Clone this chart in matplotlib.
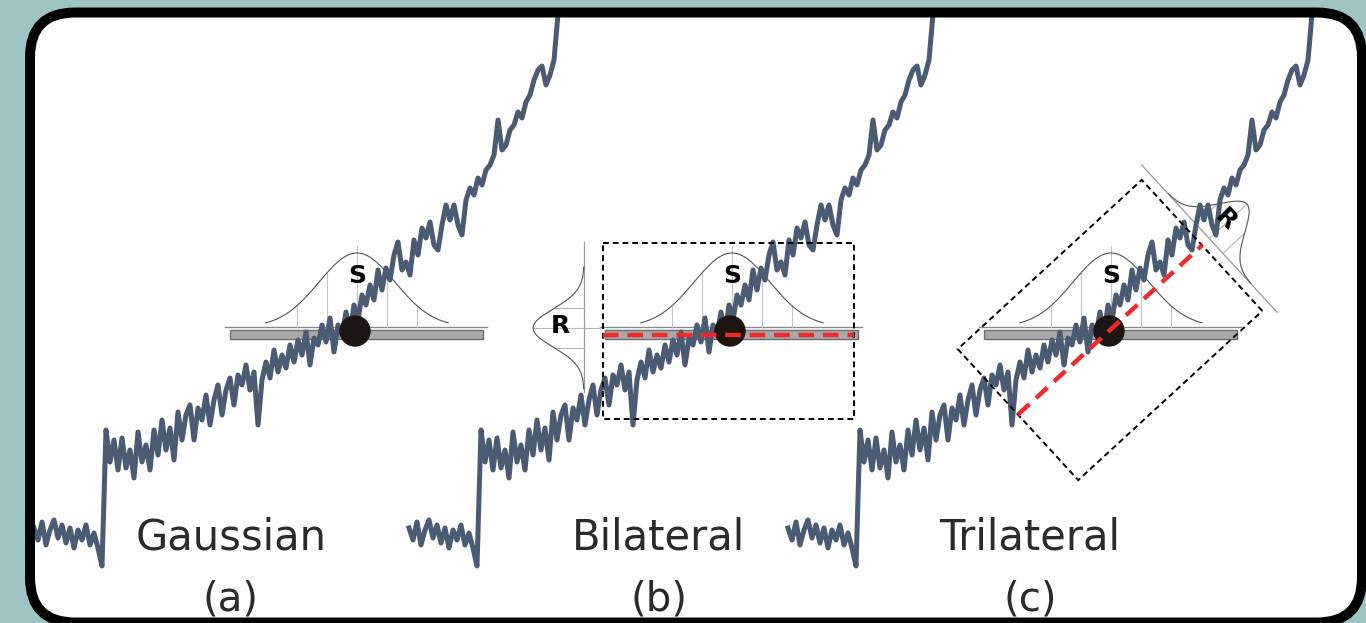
import numpy as np
import matplotlib.pyplot as plt
from matplotlib.patches import FancyBboxPatch, Rectangle, Circle, Polygon

# noisy step + ramp signal, pixel units, x = 34 + 4*i
sig_y = [528, 540, 522, 545, 530, 520, 538, 525, 543, 528, 548, 530, 540, 525, 545, 533, 548, 566,
         430, 462, 440, 470, 438, 468, 450, 478, 432, 462, 445, 470, 430, 455, 420, 450, 428, 460,
         412, 440, 415, 405, 440, 408, 420, 395, 425, 400, 385, 415, 390, 378, 405, 375, 385, 365,
         390, 372, 425, 380, 362, 378, 350, 372, 355, 368, 345, 362, 340, 355, 332, 365, 338, 345,
         325, 342, 318, 352, 325, 335, 312, 335, 305, 320, 295, 305, 285, 300, 270, 290, 268, 280,
         255, 242, 270, 262, 275, 240, 255, 228, 238, 222, 245, 250, 225, 205, 220, 205, 225, 235,
         200, 188, 195, 178, 185, 170, 165, 155, 120, 150, 145, 130, 125, 112, 118, 102, 95, 80,
         70, 66, 85, 75, 60, 14]
sig_x0, sig_step = 34, 4

panel_shift = [0, 375, 754]
names = ["Gaussian", "Bilateral", "Trilateral"]
tags = ["(a)", "(b)", "(c)"]

# kernel placement (panel a coords)
dot = (355, 331)
s_peak, s_base, s_amp, s_sigma = 357, 327, 74, 38
r_amp, r_sigma = 51, 19
win_w, win_h = 251, 176
tilt = 42.6  # degrees, trilateral window

teal = "#9ec5c4"
line_col = "#4b5b73"
red = "#ee2a2a"

fig = plt.figure(figsize=(13.66, 6.23), dpi=100, facecolor=teal)
ax = fig.add_axes([0, 0, 1, 1])
ax.set_xlim(0, 1366)
ax.set_ylim(623, 0)
ax.axis("off")
ax.set_facecolor(teal)

# white card with thick black rounded border
card = dict(boxstyle="round,pad=0,rounding_size=45")
ax.add_patch(FancyBboxPatch((30, 12.5), 1332, 610, facecolor="white", edgecolor="none",
                            zorder=0, clip_on=False, **card))
ax.add_patch(FancyBboxPatch((30, 12.5), 1332, 610, facecolor="none", edgecolor="black",
                            lw=7.2, zorder=10, clip_on=False, **card))

sx = sig_x0 + sig_step * np.arange(len(sig_y))
sy = np.array(sig_y)


def s_kernel(dx):
    cx = s_peak + dx
    # base line and bar
    ax.plot([225 + dx, 487 + dx], [s_base, s_base], color="#8a8a8a", lw=1, zorder=1)
    ax.add_patch(Rectangle((230 + dx, 330), 253, 9, facecolor="#a9a9a9", edgecolor="#6d6d6d",
                           lw=1, zorder=1))
    u = np.linspace(-2.4, 2.4, 200)
    ax.plot(cx + u * s_sigma, s_base - s_amp * np.exp(-u ** 2 / 2), color="#555555", lw=0.8, zorder=2)
    for k in [-60, -30, 0, 30, 60]:
        top = s_base - s_amp * np.exp(-(k / s_sigma) ** 2 / 2)
        if k == 0:
            top -= 7
        ax.plot([cx + k, cx + k], [s_base, top], color="#c4c4c4", lw=0.8, zorder=1)
    ax.text(cx, 276, "S", fontsize=18, fontweight="bold", ha="center", va="center", zorder=6)


for i, dx in enumerate(panel_shift):
    s_kernel(dx)
    ax.plot(sx + dx, sy, color=line_col, lw=3.6, solid_joinstyle="round", zorder=3)
    ax.add_patch(Circle((dot[0] + dx, dot[1]), 15, color="#1d1512", zorder=4))
    cx_txt = [231, 659, 1030][i]
    ax.text(cx_txt, 549, names[i], fontsize=30, color="#2b2b2b", ha="center", va="baseline", zorder=6)
    ax.text(cx_txt, 611, tags[i], fontsize=29, color="#2b2b2b", ha="center", va="baseline", zorder=6)

# --- bilateral: range kernel + window
bx, by = dot[0] + 375 - 2, dot[1]
ax.add_patch(Rectangle((bx - win_w / 2, by - win_h / 2), win_w, win_h, fill=False, edgecolor="black",
                       lw=1.4, linestyle=(0, (3, 2)), zorder=5))
ax.plot([bx - win_w / 2, bx + win_w / 2], [335, 335], color=red, lw=3.2, linestyle=(0, (3.5, 2)),
        zorder=5)
rl = 584
ax.plot([rl, rl], [242, 392], color="#999999", lw=0.9, zorder=1)
v = np.linspace(-3.2, 3.2, 200)
ax.plot(rl - r_amp * np.exp(-v ** 2 / 2), by - 3 + v * r_sigma, color="#555555", lw=0.8, zorder=2)
for k in [-20, 0, 20]:
    left = rl - r_amp * np.exp(-(k / r_sigma) ** 2 / 2)
    ax.plot([left, rl + (16 if k == 0 else 0)], [by - 3 + k, by - 3 + k], color="#b5b5b5", lw=0.8, zorder=1)
ax.text(560, 326, "R", fontsize=18, fontweight="bold", ha="center", va="center", zorder=6)

# --- trilateral: tilted window
cx, cy = dot[0] + 754 + 1, dot[1] - 1
a = np.deg2rad(tilt)
d = np.array([np.cos(a), -np.sin(a)])   # along the window
p = np.array([np.sin(a), np.cos(a)])    # across the window
c = np.array([cx, cy])
hw, hh = 125, 89
corners = [c + hw * d + hh * p, c + hw * d - hh * p, c - hw * d - hh * p, c - hw * d + hh * p]
ax.add_patch(Polygon(corners, closed=True, fill=False, edgecolor="black", lw=1.4,
                     linestyle=(0, (3, 2)), zorder=5))
e0, e1 = c - hw * d, c + hw * d
ax.plot([e0[0], e1[0]], [e0[1], e1[1]], color=red, lw=3.2, linestyle=(0, (3.5, 2)), zorder=5)

# range kernel along the upper-right edge
m = c + (hw + 10) * d
l0, l1 = m - 100 * p, m + 100 * p
ax.plot([l0[0], l1[0]], [l0[1], l1[1]], color="#999999", lw=0.9, zorder=1)
pts = np.array([m + r_amp * np.exp(-t ** 2 / 2) * d + t * r_sigma * p for t in v])
ax.plot(pts[:, 0], pts[:, 1], color="#555555", lw=0.8, zorder=2)
for k in [-20, 0, 20]:
    q0 = m + k * p
    q1 = m + r_amp * np.exp(-(k / r_sigma) ** 2 / 2) * d + k * p
    ax.plot([q0[0], q1[0]], [q0[1], q1[1]], color="#b5b5b5", lw=0.8, zorder=1)
rt = m + 25 * d - 3 * p
ax.text(rt[0], rt[1], "R", fontsize=18, fontweight="bold", ha="center", va="center",
        rotation=-45, zorder=6)

fig.savefig("out.png", dpi=100, facecolor=teal)
